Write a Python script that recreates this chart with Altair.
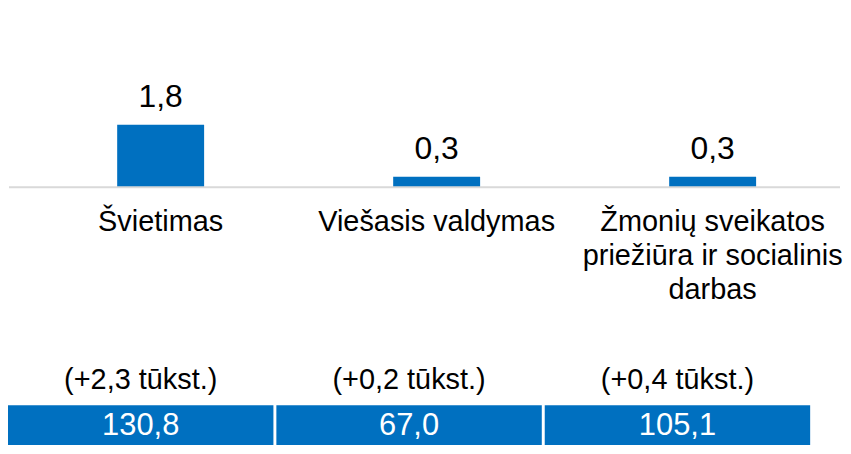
import altair as alt
import pandas as pd

# ---- data ----
categories = ["Švietimas", "Viešasis valdymas", "Žmonių sveikatos\npriežiūra ir socialinis\ndarbas"]
values = [1.8, 0.3, 0.3]
value_labels = ["1,8", "0,3", "0,3"]
changes = ["(+2,3 tūkst.)", "(+0,2 tūkst.)", "(+0,4 tūkst.)"]
totals = ["130,8", "67,0", "105,1"]

df = pd.DataFrame({
    "cat": categories,
    "value": values,
    "vlabel": value_labels,
    "change": changes,
    "total": totals,
})
zero_df = pd.DataFrame({"base": [0]})

FONT = "Liberation Sans, Arial, sans-serif"
BLUE = "#0070C0"

base = alt.Chart(df)

# ---- top panel: bars ----
x_bar = alt.X("cat:N", sort=None, axis=None,
              scale=alt.Scale(domain=categories, range=[14, 845.4],
                              paddingInner=0.685, paddingOuter=0.3415))
y_scale = alt.Scale(domain=[-4.91, 5.14], nice=False, zero=False)
y_val = alt.Y("value:Q", axis=None, scale=y_scale)

bars = base.mark_bar(color=BLUE).encode(x=x_bar, y=y_val)

rule = alt.Chart(zero_df).mark_rule(color="#D9D9D9", strokeWidth=2).encode(
    y=alt.Y("base:Q", axis=None, scale=y_scale))

vtext = base.mark_text(baseline="alphabetic", dy=-18, fontSize=32, font=FONT,
                       color="#000000").encode(x=x_bar, y=y_val, text="vlabel:N")

labels = base.mark_text(baseline="alphabetic", fontSize=29, font=FONT, lineHeight=34,
                        lineBreak="\n", color="#000000").encode(
    x=x_bar, y=alt.value(223), text="cat:N")

top = alt.layer(bars, rule, vtext, labels).properties(width=835, height=350)

# ---- bottom panel: totals strip ----
x_box = alt.X("cat:N", sort=None, axis=None,
              scale=alt.Scale(domain=categories, range=[-1, 805],
                              paddingInner=0.011, paddingOuter=0))

boxes = base.mark_rect(color=BLUE).encode(x=x_box, y=alt.value(48), y2=alt.value(88))

change_text = base.mark_text(baseline="alphabetic", fontSize=29, font=FONT,
                             color="#000000").encode(
    x=x_box, y=alt.value(32), text="change:N")

total_text = base.mark_text(baseline="middle", fontSize=31, font=FONT,
                            color="#FFFFFF").encode(
    x=x_box, y=alt.value(69), text="total:N")

bottom = alt.layer(boxes, change_text, total_text).properties(width=835, height=88)

chart = alt.vconcat(top, bottom, spacing=0).properties(
    padding=0, background="#FFFFFF",
).configure_view(stroke=None)

chart.save("out.html", embed_options={"renderer": "svg", "actions": False})
